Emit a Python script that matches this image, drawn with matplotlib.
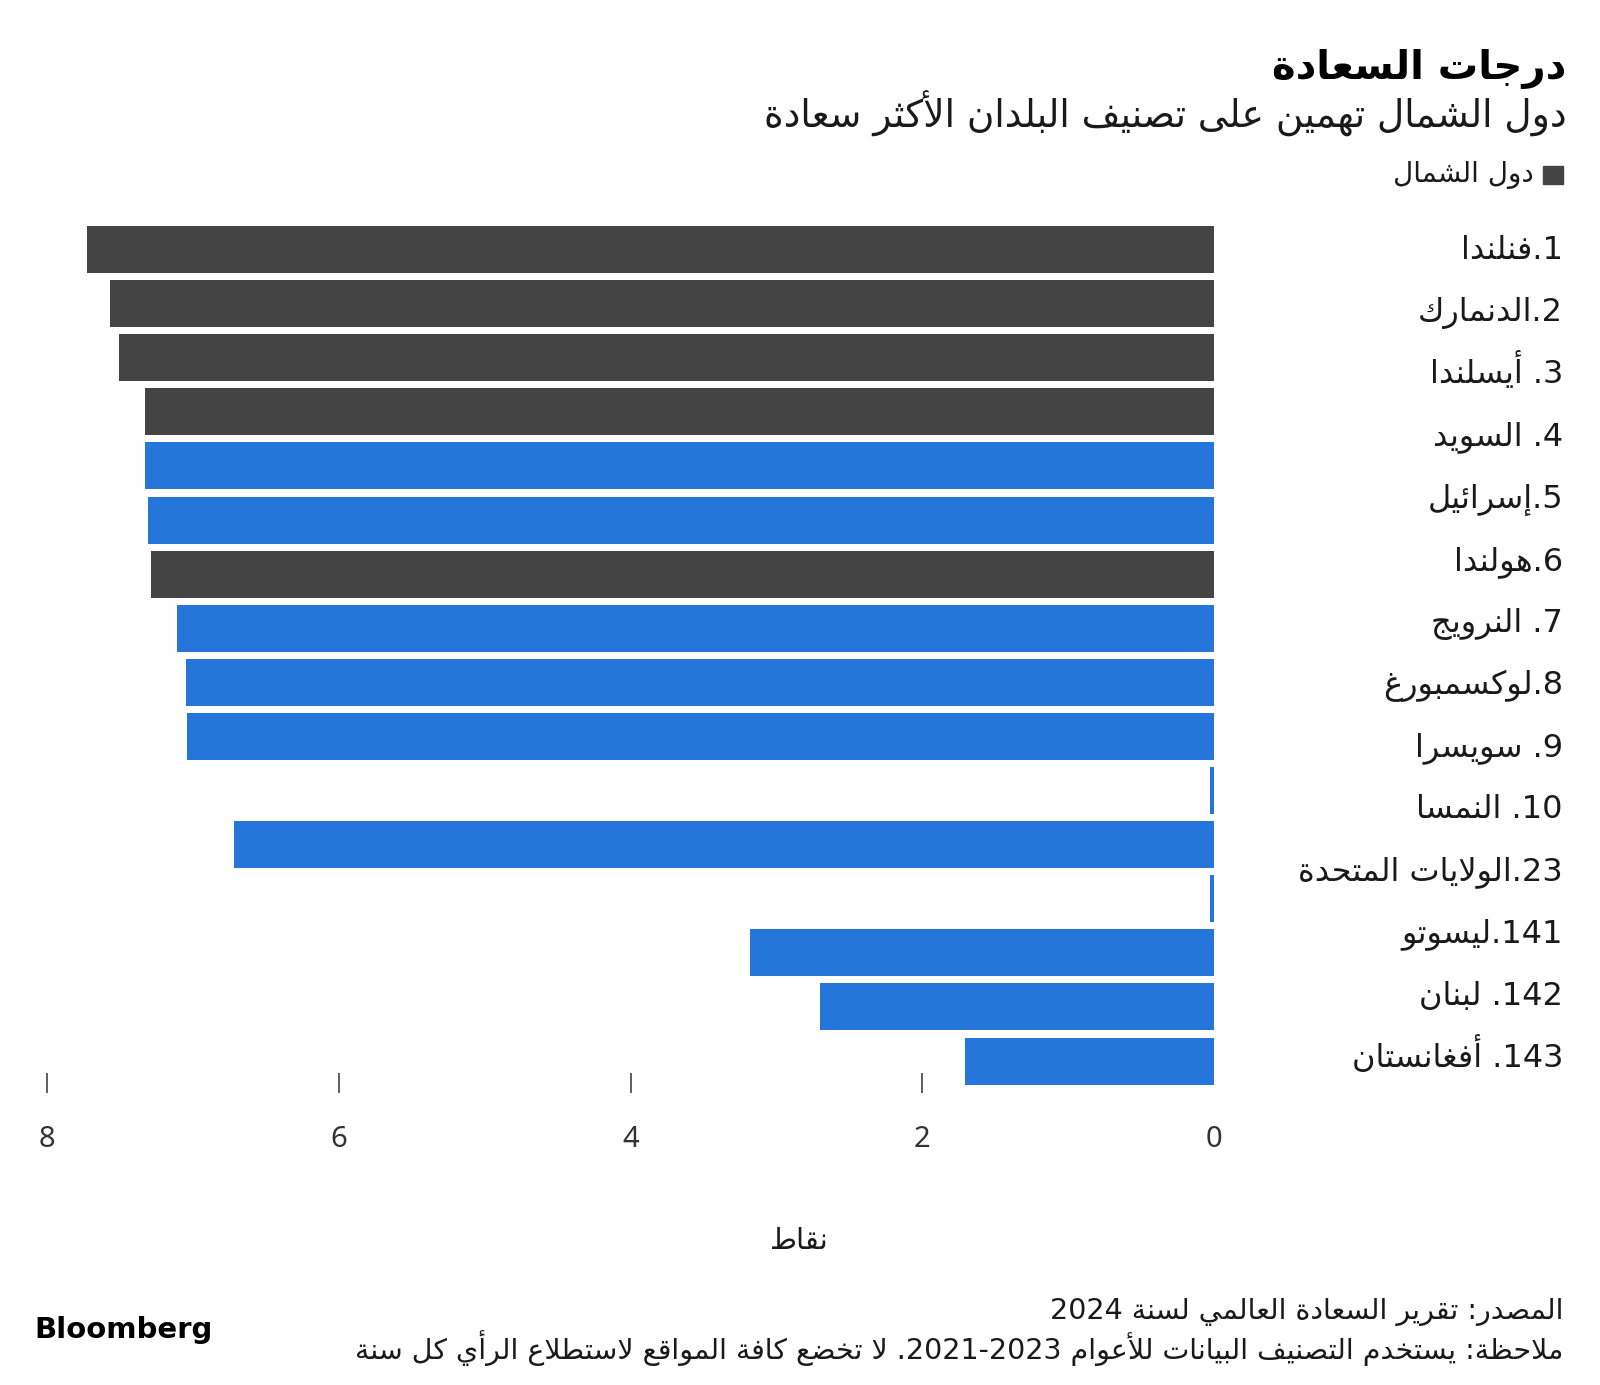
import re
import matplotlib
matplotlib.use("Agg")
import matplotlib.pyplot as plt
from matplotlib.patches import Rectangle

# ---- data ----
values = [7.73, 7.57, 7.51, 7.33, 7.33, 7.31, 7.29, 7.11, 7.05, 7.04,
          0.03, 6.72, 0.03, 3.18, 2.70, 1.71]
nordic = [1, 1, 1, 1, 0, 0, 1, 0, 0, 0, 0, 0, 0, 0, 0, 0]
labels = ["1.فنلندا", "2.الدنمارك", "3. أيسلندا", "4. السويد", "5.إسرائيل",
          "6.هولندا", "7. النرويج", "8.لوكسمبورغ", "9. سويسرا", "10. النمسا",
          "23.الولايات المتحدة", "141.ليسوتو", "142. لبنان", "143. أفغانستان"]
ticks = [8, 6, 4, 2, 0]

title = "درجات السعادة"
subtitle = "دول الشمال تهمين على تصنيف البلدان الأكثر سعادة"
legend_label = "دول الشمال"
xlabel = "نقاط"
source = "المصدر: تقرير السعادة العالمي لسنة 2024"
note = "ملاحظة: يستخدم التصنيف البيانات للأعوام 2021-2023. لا تخضع كافة المواقع لاستطلاع الرأي كل سنة"

DARK = "#444444"
BLUE = "#2675DB"
TEXT = "#1a1a1a"

# ---- arabic shaping (matplotlib has no bidi / joining) ----
DUAL = {'ئ': 0xFE89, 'ب': 0xFE8F, 'ت': 0xFE95, 'ث': 0xFE99, 'ج': 0xFE9D,
        'ح': 0xFEA1, 'خ': 0xFEA5, 'س': 0xFEB1, 'ش': 0xFEB5, 'ص': 0xFEB9,
        'ض': 0xFEBD, 'ط': 0xFEC1, 'ظ': 0xFEC5, 'ع': 0xFEC9, 'غ': 0xFECD,
        'ف': 0xFED1, 'ق': 0xFED5, 'ك': 0xFED9, 'ل': 0xFEDD, 'م': 0xFEE1,
        'ن': 0xFEE5, 'ه': 0xFEE9, 'ي': 0xFEF1}
RIGHT = {'آ': 0xFE81, 'أ': 0xFE83, 'ؤ': 0xFE85, 'إ': 0xFE87, 'ا': 0xFE8D,
         'ة': 0xFE93, 'د': 0xFEA9, 'ذ': 0xFEAB, 'ر': 0xFEAD, 'ز': 0xFEAF,
         'و': 0xFEED, 'ى': 0xFEEF}
LAMALEF = {'آ': 0xFEF5, 'أ': 0xFEF7, 'إ': 0xFEF9, 'ا': 0xFEFB}


def shape(s):
    out = []
    i = 0
    while i < len(s):
        c = s[i]
        prev_j = i > 0 and s[i - 1] in DUAL
        if c == 'ل' and i + 1 < len(s) and s[i + 1] in LAMALEF:
            out.append(chr(LAMALEF[s[i + 1]] + (1 if prev_j else 0)))
            i += 2
            continue
        if c in DUAL or c in RIGHT:
            base = DUAL.get(c, RIGHT.get(c))
            nxt = s[i + 1] if i + 1 < len(s) else ''
            next_j = c in DUAL and (nxt in DUAL or nxt in RIGHT)
            if prev_j and next_j:
                out.append(chr(base + 3))
            elif prev_j:
                out.append(chr(base + 1))
            elif next_j:
                out.append(chr(base + 2))
            else:
                out.append(chr(base))
        elif c == 'ء':
            out.append('\uFE80')
        else:
            out.append(c)
        i += 1
    return ''.join(out)


def ar(s):
    runs = re.findall(r'[0-9]+(?:[-.,][0-9]+)*|[^0-9]+', shape(s))
    return ''.join(r if r[0].isdigit() else r[::-1] for r in reversed(runs))


plt.rcParams['font.family'] = ['DejaVu Sans']

W, H = 1600, 1385
fig = plt.figure(figsize=(16, 13.85), dpi=100)


def fx(px):
    return px / W


def fy(py):
    return 1 - py / H


# bars axes: x=8 at 47px, x=0 at 1214px; rows 54.1px apart
ax = fig.add_axes([fx(47.3), fy(1082.5), (1214 - 47.3) / W, (1082.5 - 222.5) / H])
rows = list(range(len(values)))
colors = [DARK if n else BLUE for n in nordic]
bars = ax.barh(rows, values, height=0.87, color=colors)
for b in bars:
    b.set_clip_on(False)
ax.set_xlim(8, 0)
ax.set_ylim(-0.5 + (1082.5 - 222.5) / 54.1, -0.5)
ax.set_xticks(ticks)
ax.set_xticklabels([str(t) for t in ticks], family=['Noto Sans', 'DejaVu Sans'])
ax.set_yticks([])
ax.tick_params(axis='x', direction='inout', length=13.7, width=1.1,
               color='#333333', labelsize=21, labelcolor='#333333', pad=24)
# no tick mark at zero, only its label
ax.xaxis.get_major_ticks()[-1].tick1line.set_visible(False)
for sp in ax.spines.values():
    sp.set_visible(False)

# country labels, right aligned, evenly spread over the plot height
for i, lab in enumerate(labels):
    fig.text(fx(1563), fy(259 + 62.15 * i), ar(lab), ha='right', va='baseline',
             fontsize=23, color=TEXT)

# titles
fig.text(fx(1566), fy(79), ar(title), ha='right', va='baseline',
         fontsize=29, fontweight='bold', color='black')
fig.text(fx(1567), fy(128), ar(subtitle), ha='right', va='baseline',
         fontsize=27, color=TEXT)

# legend
fig.patches.append(Rectangle((fx(1543), fy(184)), 20 / W, 18 / H,
                             transform=fig.transFigure, color=DARK))
fig.text(fx(1534), fy(182), ar(legend_label), ha='right', va='baseline',
         fontsize=20, color=TEXT)

# axis label
fig.text(fx(799), fy(1249), ar(xlabel), ha='center', va='baseline',
         fontsize=21, color=TEXT)

# footer
fig.text(fx(1563), fy(1319), ar(source), ha='right', va='baseline',
         fontsize=20.5, color=TEXT)
fig.text(fx(1563), fy(1359), ar(note), ha='right', va='baseline',
         fontsize=20.5, color=TEXT)
fig.text(fx(34), fy(1338), "Bloomberg", ha='left', va='baseline',
         fontsize=21, fontweight='bold', color='black')

fig.savefig("out.png", dpi=100, facecolor='white')
